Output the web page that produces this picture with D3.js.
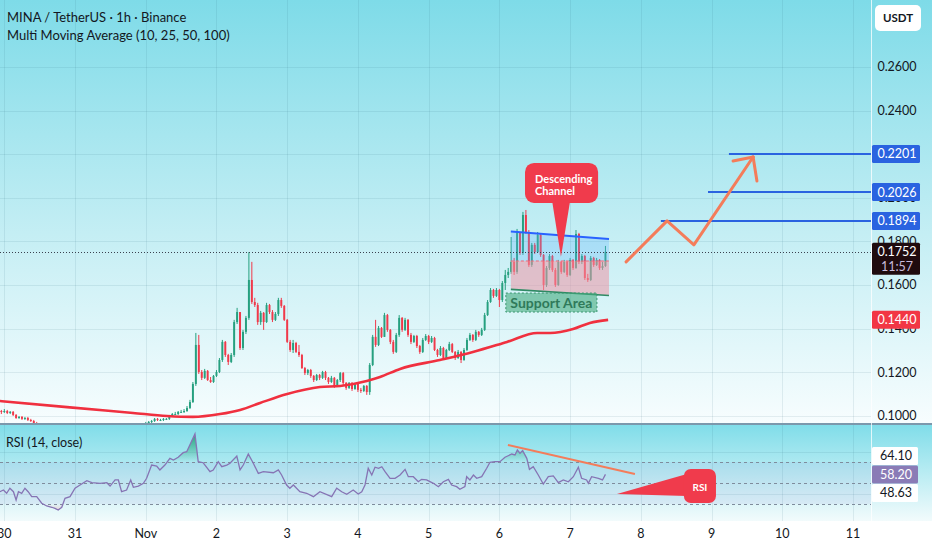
<!DOCTYPE html>
<html>
<head>
<meta charset="utf-8">
<script src="https://cdn.jsdelivr.net/npm/d3@7/dist/d3.min.js"></script>
<style>
    body { margin: 0; background: #ffffff; }
    svg { display: block; font-family: Lato, 'Noto Sans', sans-serif; }
</style>
</head>
<body>
<svg id="chart" width="932" height="550"></svg>
<script>
// hourly candles, hour 0 = Oct 29 22:00 UTC
var startTime = Date.UTC(2025, 9, 29, 22);
var firstOpen = 0.1027;

var closes = [
    0.1022, 0.1018, 0.1022, 0.1013, 0.1018, 0.1004, 0.0990, 0.0995, 0.0986, 0.0990,
    0.0981, 0.0976, 0.0967, 0.0958, 0.0949, 0.0940, 0.0944, 0.0930, 0.0921, 0.0917,
    0.0908, 0.0912, 0.0921, 0.0935, 0.0940, 0.0944, 0.0949, 0.0944, 0.0949, 0.0949,
    0.0944, 0.0949, 0.0953, 0.0949, 0.0944, 0.0935, 0.0944, 0.0949, 0.0953, 0.0944,
    0.0949, 0.0958, 0.0949, 0.0944, 0.0949, 0.0944, 0.0949, 0.0953, 0.0958, 0.0958,
    0.0963, 0.0972, 0.0976, 0.0986, 0.0981, 0.0981, 0.0986, 0.0986, 0.0999, 0.1008,
    0.1008, 0.1018, 0.1018, 0.1022, 0.1036, 0.1063, 0.1146, 0.1325, 0.1201, 0.1174,
    0.1206, 0.1164, 0.1155, 0.1183, 0.1201, 0.1256, 0.1339, 0.1279, 0.1247, 0.1279,
    0.1430, 0.1476, 0.1311, 0.1385, 0.1449, 0.1623, 0.1522, 0.1508, 0.1430, 0.1472,
    0.1430, 0.1508, 0.1476, 0.1440, 0.1467, 0.1531, 0.1504, 0.1440, 0.1339, 0.1302,
    0.1334, 0.1293, 0.1279, 0.1219, 0.1196, 0.1210, 0.1183, 0.1164, 0.1187, 0.1174,
    0.1201, 0.1174, 0.1155, 0.1174, 0.1137, 0.1164, 0.1196, 0.1151, 0.1128, 0.1151,
    0.1123, 0.1146, 0.1119, 0.1114, 0.1137, 0.1109, 0.1233, 0.1362, 0.1325, 0.1403,
    0.1362, 0.1462, 0.1394, 0.1339, 0.1293, 0.1371, 0.1449, 0.1394, 0.1440, 0.1371,
    0.1339, 0.1366, 0.1320, 0.1293, 0.1348, 0.1366, 0.1339, 0.1357, 0.1302, 0.1279,
    0.1311, 0.1265, 0.1302, 0.1329, 0.1293, 0.1265, 0.1293, 0.1256, 0.1302, 0.1348,
    0.1371, 0.1348, 0.1385, 0.1371, 0.1394, 0.1462, 0.1522, 0.1577, 0.1550, 0.1577,
    0.1531, 0.1609, 0.1646, 0.1660, 0.1706, 0.1660, 0.1843, 0.1747, 0.1921, 0.1843,
    0.1692, 0.1784, 0.1751, 0.1830, 0.1738, 0.1600, 0.1678, 0.1733, 0.1669, 0.1600,
    0.1706, 0.1660, 0.1706, 0.1646, 0.1715, 0.1678, 0.1834, 0.1706, 0.1733, 0.1632,
    0.1623, 0.1724, 0.1692, 0.1715, 0.1678, 0.1687, 0.1752
];

var highs = [
    0.1036, 0.1027, 0.1031, 0.1027, 0.1022, 0.1022, 0.1008, 0.0999, 0.0999, 0.0995,
    0.0995, 0.0986, 0.0981, 0.0972, 0.0963, 0.0953, 0.0949, 0.0949, 0.0935, 0.0926,
    0.0921, 0.0917, 0.0926, 0.0940, 0.0949, 0.0949, 0.0958, 0.0953, 0.0953, 0.0958,
    0.0953, 0.0953, 0.0958, 0.0958, 0.0953, 0.0949, 0.0949, 0.0953, 0.0958, 0.0958,
    0.0953, 0.0967, 0.0963, 0.0953, 0.0953, 0.0953, 0.0953, 0.0958, 0.0963, 0.0967,
    0.0972, 0.0976, 0.0981, 0.0990, 0.0990, 0.0986, 0.0990, 0.0990, 0.1004, 0.1013,
    0.1018, 0.1022, 0.1027, 0.1031, 0.1045, 0.1073, 0.1155, 0.1380, 0.1371, 0.1210,
    0.1215, 0.1210, 0.1178, 0.1187, 0.1210, 0.1265, 0.1348, 0.1343, 0.1284, 0.1288,
    0.1440, 0.1495, 0.1476, 0.1394, 0.1458, 0.1751, 0.1706, 0.1541, 0.1518, 0.1481,
    0.1476, 0.1518, 0.1513, 0.1485, 0.1476, 0.1541, 0.1541, 0.1508, 0.1444, 0.1348,
    0.1348, 0.1339, 0.1325, 0.1284, 0.1224, 0.1215, 0.1215, 0.1187, 0.1192, 0.1192,
    0.1206, 0.1206, 0.1178, 0.1183, 0.1178, 0.1169, 0.1201, 0.1201, 0.1155, 0.1155,
    0.1155, 0.1151, 0.1151, 0.1128, 0.1141, 0.1141, 0.1242, 0.1371, 0.1440, 0.1412,
    0.1407, 0.1472, 0.1467, 0.1398, 0.1348, 0.1380, 0.1462, 0.1453, 0.1449, 0.1444,
    0.1380, 0.1371, 0.1371, 0.1325, 0.1357, 0.1375, 0.1371, 0.1366, 0.1362, 0.1307,
    0.1320, 0.1316, 0.1307, 0.1339, 0.1334, 0.1297, 0.1302, 0.1297, 0.1311, 0.1357,
    0.1380, 0.1375, 0.1394, 0.1389, 0.1403, 0.1472, 0.1531, 0.1586, 0.1582, 0.1586,
    0.1582, 0.1618, 0.1669, 0.1678, 0.1820, 0.1724, 0.1857, 0.1834, 0.1935, 0.1944,
    0.1852, 0.1793, 0.1793, 0.1843, 0.1834, 0.1742, 0.1687, 0.1742, 0.1738, 0.1678,
    0.1715, 0.1710, 0.1715, 0.1710, 0.1724, 0.1719, 0.1852, 0.1839, 0.1742, 0.1738,
    0.1651, 0.1733, 0.1729, 0.1724, 0.1719, 0.1706, 0.1779
];

var lows = [
    0.1013, 0.1008, 0.1013, 0.1008, 0.1008, 0.0999, 0.0986, 0.0986, 0.0981, 0.0981,
    0.0976, 0.0972, 0.0963, 0.0953, 0.0944, 0.0935, 0.0930, 0.0926, 0.0917, 0.0912,
    0.0903, 0.0903, 0.0908, 0.0917, 0.0930, 0.0935, 0.0940, 0.0940, 0.0940, 0.0944,
    0.0940, 0.0940, 0.0944, 0.0944, 0.0940, 0.0930, 0.0930, 0.0940, 0.0944, 0.0940,
    0.0940, 0.0944, 0.0944, 0.0940, 0.0940, 0.0940, 0.0940, 0.0944, 0.0949, 0.0953,
    0.0953, 0.0958, 0.0967, 0.0972, 0.0976, 0.0976, 0.0976, 0.0981, 0.0981, 0.0995,
    0.1004, 0.1004, 0.1013, 0.1013, 0.1018, 0.1031, 0.1059, 0.1137, 0.1192, 0.1164,
    0.1169, 0.1160, 0.1151, 0.1151, 0.1178, 0.1196, 0.1247, 0.1270, 0.1233, 0.1242,
    0.1270, 0.1421, 0.1302, 0.1302, 0.1375, 0.1440, 0.1513, 0.1499, 0.1417, 0.1417,
    0.1394, 0.1426, 0.1467, 0.1430, 0.1435, 0.1458, 0.1495, 0.1435, 0.1334, 0.1293,
    0.1288, 0.1288, 0.1270, 0.1215, 0.1187, 0.1187, 0.1174, 0.1155, 0.1160, 0.1164,
    0.1169, 0.1164, 0.1146, 0.1151, 0.1128, 0.1132, 0.1155, 0.1141, 0.1119, 0.1123,
    0.1114, 0.1119, 0.1109, 0.1105, 0.1109, 0.1096, 0.1096, 0.1228, 0.1316, 0.1320,
    0.1357, 0.1362, 0.1385, 0.1329, 0.1284, 0.1288, 0.1362, 0.1385, 0.1389, 0.1362,
    0.1329, 0.1334, 0.1311, 0.1284, 0.1288, 0.1343, 0.1329, 0.1334, 0.1297, 0.1270,
    0.1274, 0.1256, 0.1261, 0.1297, 0.1288, 0.1256, 0.1261, 0.1242, 0.1252, 0.1297,
    0.1343, 0.1339, 0.1343, 0.1362, 0.1366, 0.1389, 0.1458, 0.1518, 0.1541, 0.1545,
    0.1499, 0.1522, 0.1577, 0.1632, 0.1651, 0.1646, 0.1651, 0.1738, 0.1738, 0.1834,
    0.1683, 0.1683, 0.1742, 0.1747, 0.1729, 0.1577, 0.1591, 0.1669, 0.1660, 0.1591,
    0.1596, 0.1651, 0.1655, 0.1637, 0.1641, 0.1669, 0.1674, 0.1696, 0.1696, 0.1623,
    0.1614, 0.1618, 0.1683, 0.1687, 0.1669, 0.1669, 0.1683
];

// red moving average, sampled (hour, value)
var maHours  = [0.5, 23.3, 45.7, 57.2, 66, 75.2, 82, 88.8, 98, 109.1, 116, 125, 129.5, 136.3, 149.8, 161, 172.6, 182.8, 187.2, 195, 200.7, 206.9];
var maValues = [0.1068, 0.1040, 0.1013, 0.0999, 0.0995, 0.1008, 0.1027, 0.1059, 0.1100, 0.1132, 0.1137, 0.1160, 0.1178, 0.1215, 0.1256, 0.1293, 0.1339, 0.1380, 0.1380, 0.1398, 0.1426, 0.1440];

// RSI (14, close), sampled (hour, value)
var rsiHours = [
    0.5, 1.7, 2.8, 3.9, 5.1, 6.0, 6.8, 7.9, 9.0, 10.1, 11.3, 13.0, 14.7, 16.4, 18.1, 19.2, 20.3, 21.5, 22.6, 24.3,
    26.0, 27.7, 30.0, 31.7, 34.5, 36.8, 37.9, 39.6, 40.7, 41.8, 43.5, 44.9, 45.8, 47.5, 49.2, 50.3, 52.0, 53.7, 54.8, 56.5,
    58.2, 59.4, 61.0, 62.7, 63.9, 66.7, 67.8, 69.5, 71.8, 72.9, 74.6, 75.8, 77.5, 78.6, 80.9, 82.0, 83.1, 84.8, 86.5, 88.2,
    89.9, 93.3, 95.0, 96.1, 97.8, 98.9, 100.1, 102.3, 104.6, 106.9, 109.1, 113.1, 114.8, 116.5, 118.2, 120.4, 122.1, 123.3, 124.4, 125.5,
    126.7, 127.8, 129.0, 130.1, 131.2, 132.9, 134.6, 136.3, 138.0, 139.1, 140.8, 142.5, 143.6, 145.3, 147.6, 149.3, 151.0, 152.7, 153.8, 155.5,
    156.6, 158.3, 158.9, 160.0, 161.2, 162.3, 164.0, 165.7, 166.8, 168.5, 170.2, 171.9, 174.2, 175.3, 176.1, 177.0, 177.9, 179.3, 180.2, 181.5,
    183.2, 184.9, 186.6, 188.3, 190.0, 191.7, 193.4, 195.1, 196.8, 197.9, 199.6, 200.2, 201.3, 203.6, 205.0, 206.0
];
var rsiValues = [
    41.7, 43.3, 40.2, 45.0, 41.7, 33.8, 41.7, 40.2, 45.0, 41.7, 37.0, 37.0, 30.7, 28.1, 26.9, 25.9, 24.3, 26.9, 35.4, 37.0,
    45.0, 48.1, 52.2, 50.3, 49.7, 50.3, 47.1, 52.9, 52.9, 41.7, 43.3, 52.9, 45.9, 47.1, 49.7, 54.5, 67.1, 66.2, 62.4, 67.1,
    73.5, 71.9, 74.5, 78.9, 79.8, 96.7, 70.3, 69.3, 60.8, 62.4, 70.3, 65.5, 67.1, 68.8, 75.7, 62.4, 67.1, 77.6, 68.8, 59.2,
    60.8, 59.8, 62.4, 57.6, 48.1, 45.0, 48.1, 41.7, 40.2, 37.0, 41.7, 37.0, 45.0, 41.7, 39.2, 43.3, 39.5, 41.7, 48.1, 64.0,
    57.6, 65.0, 64.0, 65.5, 60.8, 54.5, 54.5, 57.6, 63.0, 56.0, 56.0, 51.2, 53.5, 52.9, 49.7, 46.5, 51.2, 53.5, 48.1, 46.5,
    44.0, 46.5, 56.0, 52.9, 57.6, 54.5, 56.0, 64.0, 69.7, 70.3, 70.3, 74.5, 77.6, 76.7, 81.4, 78.3, 80.8, 73.5, 63.0, 65.5,
    57.6, 49.0, 56.0, 56.7, 50.3, 52.9, 51.2, 56.0, 65.0, 54.5, 52.9, 49.7, 56.0, 54.5, 52.9, 58.2
];

var priceTicks = [0.10, 0.12, 0.14, 0.16, 0.18, 0.20, 0.22, 0.24, 0.26];
var targetPrices = [0.2201, 0.2026, 0.1894];
var targetStartHours = [247.9, 240.8, 224.8];
var maLastLabel = 0.1440;
var countdown = '11:57';
var rsiLevels = [70, 50, 30];
var rsiGridLevels = [80, 40];
var rsiLabelValues = [64.10, 58.20, 48.63];

// drawings, in (hour, price) or (hour, rsi)
var channelHours = [173.9, 207.2];
var channelTop = [0.1845, 0.1811];
var channelMid = 0.1710;
var channelBottom = [0.1580, 0.1552];
var supportHours = [172.2, 203.1];
var supportPrices = [0.1563, 0.1476];
var arrowHours = [213.0, 226.9, 236.0, 256.1];
var arrowPrices = [0.1706, 0.1894, 0.1784, 0.2187];
var arrowHeadHours = [249.3, 257.4];
var arrowHeadPrices = [0.2169, 0.2077];
var calloutHours = [178.7, 203.5];
var calloutPrices = [0.2160, 0.1976];
var calloutTip = [190.9, 0.1729];
var calloutBase = [187.9, 194.0];
var rsiTrendHours = [172.9, 216.0];
var rsiTrendValues = [86.2, 58.6];
var rsiCalloutHours = [232.6, 243.5];
var rsiCalloutValues = [63.3, 31.0];
var rsiCalloutTip = [209.9, 39.5];
var rsiCalloutBase = [58.6, 37.6];

var plotRight = 871, mainBottom = 423, rsiTop = 425, rsiBottom = 521;
var upColor = '#26a07f', downColor = '#f0394a';

var svg = d3.select('#chart');
var defs = svg.append('defs');

function hourDate(h) { return new Date(startTime + h * 3600e3); }

var x = d3.scaleUtc()
    .domain([new Date(Date.UTC(2025, 9, 30)), new Date(Date.UTC(2025, 10, 11))])
    .range([4.3, 853]);
var y = d3.scaleLinear().domain([0.0967, 0.2907]).range([mainBottom, 0]);
var rsiY = d3.scaleLinear().domain([30, 70]).range([504, 462]);
function xh(h) { return x(hourDate(h)); }

function vGradient(id, stops) {
    let g = defs.append('linearGradient').attr('id', id)
        .attr('x1', 0).attr('y1', 0).attr('x2', 0).attr('y2', 1);
    stops.forEach(function(s) {
        g.append('stop').attr('offset', s[0]).attr('stop-color', s[1]).attr('stop-opacity', s[2] === undefined ? 1 : s[2]);
    });
}
vGradient('bgMain', [[0, '#7edbe8'], [0.55, '#c4eef4'], [1, '#f7fdfe']]);
vGradient('bgRsi', [[0, '#80dde9'], [1, '#f2fbfc']]);

// backgrounds
svg.append('rect').attr('x', 0).attr('y', 0).attr('width', 932).attr('height', mainBottom).attr('fill', 'url(#bgMain)');
svg.append('rect').attr('x', 0).attr('y', rsiTop).attr('width', 932).attr('height', rsiBottom - rsiTop).attr('fill', 'url(#bgRsi)');
svg.append('rect').attr('x', 0).attr('y', mainBottom).attr('width', 932).attr('height', rsiTop - mainBottom).attr('fill', '#7b98ac');

defs.append('clipPath').attr('id', 'clipMain').append('rect')
    .attr('x', 0).attr('y', 0).attr('width', plotRight).attr('height', mainBottom);
defs.append('clipPath').attr('id', 'clipRsi').append('rect')
    .attr('x', 0).attr('y', rsiTop).attr('width', plotRight).attr('height', rsiBottom - rsiTop);

// grid
var days = d3.utcDay.range(new Date(Date.UTC(2025, 9, 30)), new Date(Date.UTC(2025, 10, 12)));
var grid = svg.append('g').attr('stroke', 'rgba(40,95,115,0.10)').attr('stroke-width', 1);
days.forEach(function(d) {
    let gx = Math.round(x(d)) + 0.5;
    grid.append('line').attr('x1', gx).attr('x2', gx).attr('y1', 0).attr('y2', mainBottom);
    grid.append('line').attr('x1', gx).attr('x2', gx).attr('y1', rsiTop).attr('y2', rsiBottom);
});
priceTicks.forEach(function(p) {
    let gy = Math.round(y(p)) + 0.5;
    grid.append('line').attr('x1', 0).attr('x2', plotRight).attr('y1', gy).attr('y2', gy);
});
rsiGridLevels.forEach(function(v) {
    let gy = Math.round(rsiY(v)) + 0.5;
    grid.append('line').attr('x1', 0).attr('x2', plotRight).attr('y1', gy).attr('y2', gy);
});

// main pane
var main = svg.append('g').attr('clip-path', 'url(#clipMain)');

var step = xh(1) - xh(0);
var bodyW = Math.max(1, step * 0.66);
var candles = closes.map(function(c, i) {
    let o = i === 0 ? firstOpen : closes[i - 1];
    return { h: i, o: o, c: c, hi: Math.max(highs[i], o, c), lo: Math.min(lows[i], o, c) };
});

var cg = main.append('g');
cg.selectAll('line.wick')
    .data(candles).enter().append('line')
    .attr('class', 'wick')
    .attr('x1', function(d) { return xh(d.h); })
    .attr('x2', function(d) { return xh(d.h); })
    .attr('y1', function(d) { return y(d.hi); })
    .attr('y2', function(d) { return y(d.lo); })
    .attr('stroke', function(d) { return d.c >= d.o ? upColor : downColor; })
    .attr('stroke-width', 1);
cg.selectAll('rect.body')
    .data(candles).enter().append('rect')
    .attr('class', 'body')
    .attr('x', function(d) { return xh(d.h) - bodyW / 2; })
    .attr('width', bodyW)
    .attr('y', function(d) { return y(Math.max(d.o, d.c)); })
    .attr('height', function(d) { return Math.max(1, Math.abs(y(d.o) - y(d.c))); })
    .attr('fill', function(d) { return d.c >= d.o ? upColor : downColor; });

// moving average
var maLine = d3.line()
    .x(function(d, i) { return xh(maHours[i]); })
    .y(function(d) { return y(d); })
    .curve(d3.curveMonotoneX);
main.append('path').attr('d', maLine(maValues))
    .attr('fill', 'none').attr('stroke', '#f0303f').attr('stroke-width', 2.6);

// descending channel
var cx0 = xh(channelHours[0]), cx1 = xh(channelHours[1]);
main.append('polygon')
    .attr('points', [[cx0, y(channelTop[0])], [cx1, y(channelTop[1])], [cx1, y(channelMid)], [cx0, y(channelMid)]].join(' '))
    .attr('fill', 'rgba(95,178,250,0.28)');
main.append('polygon')
    .attr('points', [[cx0, y(channelMid)], [cx1, y(channelMid)], [cx1, y(channelBottom[1])], [cx0, y(channelBottom[0])]].join(' '))
    .attr('fill', 'rgba(236,150,166,0.55)');
main.append('line')
    .attr('x1', cx0).attr('x2', cx1).attr('y1', y(channelMid)).attr('y2', y(channelMid))
    .attr('stroke', '#ef6a7a').attr('stroke-width', 1).attr('stroke-dasharray', '3,2');
main.append('line')
    .attr('x1', cx0).attr('x2', cx1).attr('y1', y(channelTop[0])).attr('y2', y(channelTop[1]))
    .attr('stroke', '#2962ff').attr('stroke-width', 2);
main.append('line')
    .attr('x1', cx0).attr('x2', cx1).attr('y1', y(channelBottom[0])).attr('y2', y(channelBottom[1]))
    .attr('stroke', '#2f8a64').attr('stroke-width', 1.6);

// support area
var sx0 = xh(supportHours[0]), sx1 = xh(supportHours[1]);
var sy0 = y(supportPrices[0]), sy1 = y(supportPrices[1]);
main.append('rect')
    .attr('x', sx0).attr('y', sy0).attr('width', sx1 - sx0).attr('height', sy1 - sy0)
    .attr('fill', 'rgba(70,172,126,0.6)')
    .attr('stroke', '#3a9670').attr('stroke-width', 1).attr('stroke-dasharray', '2,2');
main.append('text')
    .attr('x', (sx0 + sx1) / 2).attr('y', (sy0 + sy1) / 2 + 5)
    .attr('text-anchor', 'middle')
    .attr('font-size', 14).attr('font-weight', 700)
    .attr('fill', '#2f7a5a')
    .text('Support Area');

// current price line
var lastClose = closes[closes.length - 1];
main.append('line')
    .attr('x1', 0).attr('x2', plotRight).attr('y1', Math.round(y(lastClose)) + 0.5).attr('y2', Math.round(y(lastClose)) + 0.5)
    .attr('stroke', '#3a4250').attr('stroke-width', 1).attr('stroke-dasharray', '1,2');

// target levels
targetPrices.forEach(function(p, i) {
    main.append('line')
        .attr('x1', xh(targetStartHours[i])).attr('x2', plotRight)
        .attr('y1', y(p)).attr('y2', y(p))
        .attr('stroke', '#2a63e0').attr('stroke-width', 2);
});

// projected path
var arrowPts = arrowHours.map(function(h, i) { return [xh(h), y(arrowPrices[i])]; });
var tip = arrowPts[arrowPts.length - 1];
main.append('path')
    .attr('d', d3.line()(arrowPts))
    .attr('fill', 'none').attr('stroke', '#f47c5a').attr('stroke-width', 3)
    .attr('stroke-linejoin', 'round').attr('stroke-linecap', 'round');
arrowHeadHours.forEach(function(h, i) {
    main.append('line')
        .attr('x1', tip[0]).attr('y1', tip[1])
        .attr('x2', xh(h)).attr('y2', y(arrowHeadPrices[i]))
        .attr('stroke', '#f47c5a').attr('stroke-width', 3).attr('stroke-linecap', 'round');
});

// callout
var kx0 = xh(calloutHours[0]), kx1 = xh(calloutHours[1]);
var ky0 = y(calloutPrices[0]), ky1 = y(calloutPrices[1]);
main.append('polygon')
    .attr('points', [[xh(calloutBase[0]), ky1 - 2], [xh(calloutBase[1]), ky1 - 2], [xh(calloutTip[0]), y(calloutTip[1])]].join(' '))
    .attr('fill', '#f03b4c');
main.append('rect')
    .attr('x', kx0).attr('y', ky0).attr('width', kx1 - kx0).attr('height', ky1 - ky0)
    .attr('rx', 9).attr('fill', '#f03b4c');
main.append('text')
    .attr('x', kx0 + 10).attr('y', ky0 + 20)
    .attr('font-size', 11).attr('font-weight', 700).attr('fill', '#ffffff')
    .selectAll('tspan').data(['Descending', 'Channel']).enter().append('tspan')
    .attr('x', kx0 + 10).attr('dy', function(d, i) { return i === 0 ? 0 : 12; })
    .text(function(d) { return d; });

// titles
svg.append('text').attr('x', 7).attr('y', 22).attr('font-size', 13).attr('fill', '#131722')
    .text('MINA / TetherUS · 1h · Binance');
svg.append('text').attr('x', 7).attr('y', 40).attr('font-size', 13).attr('fill', '#131722')
    .text('Multi Moving Average (10, 25, 50, 100)');

// RSI pane
var rsiG = svg.append('g').attr('clip-path', 'url(#clipRsi)');
rsiG.append('rect')
    .attr('x', 0).attr('width', plotRight)
    .attr('y', rsiY(70)).attr('height', rsiY(30) - rsiY(70))
    .attr('fill', 'rgba(126,87,194,0.07)');
rsiLevels.forEach(function(v) {
    rsiG.append('line')
        .attr('x1', 0).attr('x2', plotRight)
        .attr('y1', Math.round(rsiY(v)) + 0.5).attr('y2', Math.round(rsiY(v)) + 0.5)
        .attr('stroke', '#7f8c9c').attr('stroke-width', 1).attr('stroke-dasharray', '3,3');
});

var obGrad = defs.append('linearGradient').attr('id', 'obFill').attr('gradientUnits', 'userSpaceOnUse')
    .attr('x1', 0).attr('x2', 0).attr('y1', rsiY(100)).attr('y2', rsiY(70));
obGrad.append('stop').attr('offset', 0).attr('stop-color', '#1e9e6e').attr('stop-opacity', 1);
obGrad.append('stop').attr('offset', 1).attr('stop-color', '#1e9e6e').attr('stop-opacity', 0);
var osGrad = defs.append('linearGradient').attr('id', 'osFill').attr('gradientUnits', 'userSpaceOnUse')
    .attr('x1', 0).attr('x2', 0).attr('y1', rsiY(30)).attr('y2', rsiY(0));
osGrad.append('stop').attr('offset', 0).attr('stop-color', '#f23645').attr('stop-opacity', 0);
osGrad.append('stop').attr('offset', 1).attr('stop-color', '#f23645').attr('stop-opacity', 1);

rsiG.append('path')
    .attr('d', d3.area()
        .x(function(d, i) { return xh(rsiHours[i]); })
        .y0(rsiY(70))
        .y1(function(d) { return rsiY(Math.max(d, 70)); })(rsiValues))
    .attr('fill', 'url(#obFill)');
rsiG.append('path')
    .attr('d', d3.area()
        .x(function(d, i) { return xh(rsiHours[i]); })
        .y0(rsiY(30))
        .y1(function(d) { return rsiY(Math.min(d, 30)); })(rsiValues))
    .attr('fill', 'url(#osFill)');

rsiG.append('path')
    .attr('d', d3.line()
        .x(function(d, i) { return xh(rsiHours[i]); })
        .y(function(d) { return rsiY(d); })(rsiValues))
    .attr('fill', 'none').attr('stroke', '#8674b4').attr('stroke-width', 1.3);

rsiG.append('line')
    .attr('x1', xh(rsiTrendHours[0])).attr('y1', rsiY(rsiTrendValues[0]))
    .attr('x2', xh(rsiTrendHours[1])).attr('y2', rsiY(rsiTrendValues[1]))
    .attr('stroke', '#f47c5a').attr('stroke-width', 2);

var rx0 = xh(rsiCalloutHours[0]), rx1 = xh(rsiCalloutHours[1]);
var ry0 = rsiY(rsiCalloutValues[0]), ry1 = rsiY(rsiCalloutValues[1]);
rsiG.append('polygon')
    .attr('points', [[xh(rsiCalloutTip[0]), rsiY(rsiCalloutTip[1])], [rx0 + 3, rsiY(rsiCalloutBase[0])], [rx0 + 3, rsiY(rsiCalloutBase[1])]].join(' '))
    .attr('fill', '#f03b4c');
rsiG.append('rect')
    .attr('x', rx0).attr('y', ry0).attr('width', rx1 - rx0).attr('height', ry1 - ry0)
    .attr('rx', 7).attr('fill', '#f03b4c');
rsiG.append('text')
    .attr('x', (rx0 + rx1) / 2).attr('y', rsiY(rsiCalloutTip[1]) - 3)
    .attr('text-anchor', 'middle').attr('font-size', 10).attr('font-weight', 700).attr('fill', '#ffffff')
    .text('RSI');

svg.append('text').attr('x', 6).attr('y', 447).attr('font-size', 12.5).attr('fill', '#131722')
    .text('RSI (14, close)');

// price axis
var axisX = plotRight + 1;
svg.append('line').attr('x1', plotRight + 0.5).attr('x2', plotRight + 0.5).attr('y1', 0).attr('y2', rsiBottom)
    .attr('stroke', 'rgba(255,255,255,0.75)');
svg.append('rect').attr('x', 875).attr('y', 5).attr('width', 46).attr('height', 26).attr('rx', 5)
    .attr('fill', '#ffffff');
svg.append('text').attr('x', 898).attr('y', 22).attr('text-anchor', 'middle')
    .attr('font-size', 11.5).attr('font-weight', 700).attr('fill', '#131722').text('USDT');

var fmt = d3.format('.4f');
svg.append('g').selectAll('text')
    .data(priceTicks)
    .enter().append('text')
    .attr('x', 897).attr('y', function(d) { return y(d) + 4.5; })
    .attr('text-anchor', 'middle').attr('font-size', 12.5).attr('fill', '#131722')
    .text(function(d) { return fmt(d); });

function priceBox(p, fill, color) {
    let by = y(p);
    svg.append('rect').attr('x', axisX).attr('y', by - 9).attr('width', 48).attr('height', 18)
        .attr('rx', 1.5).attr('fill', fill);
    svg.append('text').attr('x', 897).attr('y', by + 4.5).attr('text-anchor', 'middle')
        .attr('font-size', 12.5).attr('fill', color).text(fmt(p));
}
targetPrices.forEach(function(p) { priceBox(p, '#2a63e0', '#ffffff'); });
priceBox(maLastLabel, '#f23645', '#ffffff');

// last price + countdown
var ly = y(lastClose);
svg.append('rect').attr('x', axisX).attr('y', ly - 9).attr('width', 48).attr('height', 32)
    .attr('rx', 1.5).attr('fill', '#1f0b0e');
svg.append('text').attr('x', 897).attr('y', ly + 4.5).attr('text-anchor', 'middle')
    .attr('font-size', 12.5).attr('fill', '#ffffff').text(fmt(lastClose));
svg.append('text').attr('x', 897).attr('y', ly + 19.5).attr('text-anchor', 'middle')
    .attr('font-size', 12.5).attr('fill', '#c8bcdc').text(countdown);

// RSI value labels, stacked around the current value
var rsiLabelY = rsiLabelValues.map(function(v) { return rsiY(v); });
rsiLabelY[0] = Math.min(rsiLabelY[0], rsiLabelY[1] - 18.5);
rsiLabelY[2] = Math.max(rsiLabelY[2], rsiLabelY[1] + 18.5);
rsiLabelValues.forEach(function(v, i) {
    let cur = i === 1;
    svg.append('rect').attr('x', axisX).attr('y', rsiLabelY[i] - 9).attr('width', 46).attr('height', 18)
        .attr('rx', 1.5).attr('fill', cur ? '#8a7bb6' : '#ffffff');
    svg.append('text').attr('x', 896).attr('y', rsiLabelY[i] + 4.5).attr('text-anchor', 'middle')
        .attr('font-size', 12.5).attr('fill', cur ? '#ffffff' : '#131722').text(d3.format('.2f')(v));
});

// time axis
svg.append('g').selectAll('text')
    .data(days.filter(function(d) { return x(d) < plotRight; }))
    .enter().append('text')
    .attr('x', function(d) { return x(d); })
    .attr('y', 538)
    .attr('text-anchor', 'middle')
    .attr('font-size', 12.5).attr('fill', '#131722')
    .text(function(d) { return d.getUTCDate() === 1 ? d3.utcFormat('%b')(d) : d.getUTCDate(); });
</script>
</body>
</html>
